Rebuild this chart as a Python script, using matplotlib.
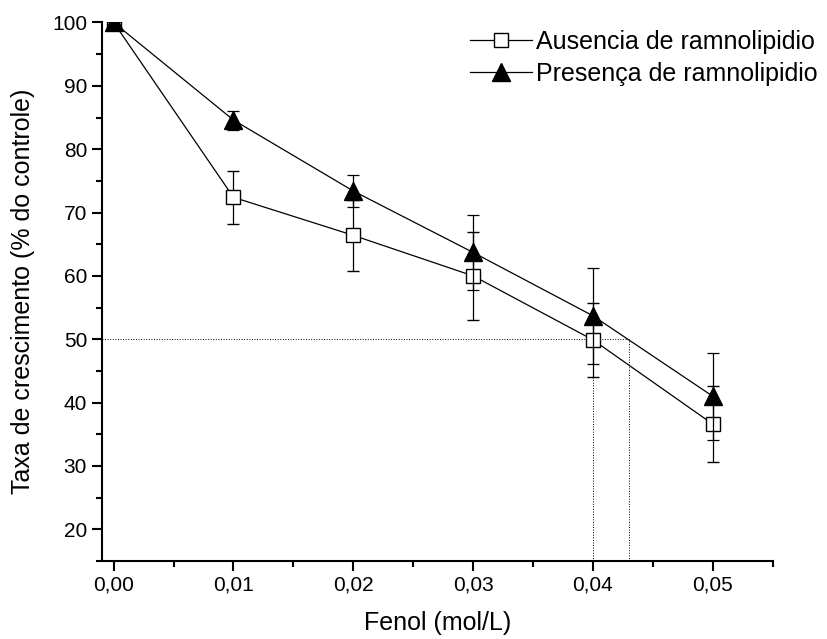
import numpy as np
import matplotlib.pyplot as plt
from matplotlib.lines import Line2D
from matplotlib.ticker import MultipleLocator, FuncFormatter

plt.rcParams['font.family'] = ['Liberation Sans', 'DejaVu Sans']

# Dados
fenol = [0.00, 0.01, 0.02, 0.03, 0.04, 0.05]
ausencia = [100, 72.4, 66.4, 60.0, 49.9, 36.6]
ausencia_err = [0, 4.2, 5.6, 6.9, 5.9, 6.0]
presenca = [100, 84.6, 73.4, 63.7, 53.7, 41.0]
presenca_err = [0, 1.5, 2.6, 5.9, 7.6, 6.9]

# linhas de referencia (CI50)
ci50 = 50
ci50_x = [0.040, 0.043]

fig = plt.figure(figsize=(8.28, 6.39), dpi=100)
ax = fig.add_axes([0.1228, 0.1221, 0.8104, 0.8427])

ax.errorbar(fenol, ausencia, yerr=ausencia_err, color='black', lw=0.9,
            marker='s', markersize=10, mfc='white', mec='black', mew=1.0,
            capsize=4, elinewidth=0.9, capthick=0.9, zorder=3)
ax.errorbar(fenol, presenca, yerr=presenca_err, color='black', lw=0.9,
            marker='^', markersize=12.5, mfc='black', mec='black',
            capsize=4, elinewidth=0.9, capthick=0.9, zorder=4)

# linhas pontilhadas
ax.plot([-0.001, max(ci50_x)], [ci50, ci50], color='black', lw=0.7, ls=':', zorder=1)
for xv in ci50_x:
    ax.plot([xv, xv], [15, ci50], color='black', lw=0.7, ls=':', zorder=1)

ax.set_xlim(-0.001, 0.055)
ax.set_ylim(15, 100)

ax.xaxis.set_major_locator(MultipleLocator(0.01))
ax.xaxis.set_minor_locator(MultipleLocator(0.005))
ax.yaxis.set_major_locator(MultipleLocator(10))
ax.yaxis.set_minor_locator(MultipleLocator(5))
ax.xaxis.set_major_formatter(FuncFormatter(lambda v, p: f'{v:.2f}'.replace('.', ',')))
ax.set_yticks(np.arange(20, 101, 10))

ax.spines['top'].set_visible(False)
ax.spines['right'].set_visible(False)
ax.spines['left'].set_linewidth(1.5)
ax.spines['bottom'].set_linewidth(1.5)
ax.tick_params(which='major', direction='out', length=7, width=1.5, labelsize=15)
ax.tick_params(which='minor', direction='out', length=4, width=1.5)

ax.set_xlabel('Fenol (mol/L)', fontsize=18, labelpad=12)
ax.set_ylabel('Taxa de crescimento (% do controle)', fontsize=18, labelpad=12)

handles = [
    Line2D([], [], color='black', lw=0.9, marker='s', markersize=10,
           mfc='white', mec='black'),
    Line2D([], [], color='black', lw=0.9, marker='^', markersize=12.5,
           mfc='black', mec='black'),
]
labels = ['Ausencia de ramnolipidio', 'Presença de ramnolipidio']
fig.legend(handles, labels, loc='upper left', frameon=False,
           fontsize=18, numpoints=1, handlelength=2.5, handletextpad=0.15,
           borderaxespad=0.0, borderpad=0.0, labelspacing=0.3,
           bbox_to_anchor=(470 / 828, 1 - 30 / 639))

fig.savefig('out.png', dpi=100)
